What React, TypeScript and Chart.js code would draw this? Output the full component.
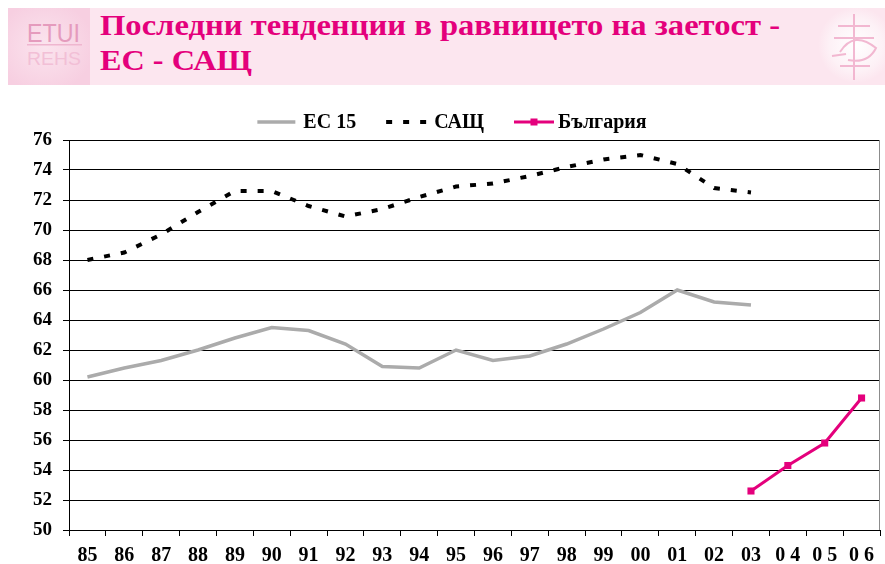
import React, { useEffect, useRef } from 'react';
import { Chart, registerables } from 'chart.js';

Chart.register(...registerables);

const categories = ['85', '86', '87', '88', '89', '90', '91', '92', '93', '94', '95', '96', '97', '98', '99', '00', '01', '02', '03', '0 4', '0 5', '0 6'];
const eu15 = [60.2, 60.8, 61.3, 62.0, 62.8, 63.5, 63.3, 62.4, 60.9, 60.8, 62.0, 61.3, 61.6, 62.4, 63.4, 64.5, 66.0, 65.2, 65.0, null, null, null];
const usa = [68.0, 68.5, 69.7, 71.2, 72.6, 72.6, 71.6, 70.9, 71.4, 72.2, 72.9, 73.1, 73.6, 74.2, 74.7, 75.0, 74.4, 72.8, 72.5, null, null, null];
const bulgaria = [null, null, null, null, null, null, null, null, null, null, null, null, null, null, null, null, null, null, 52.6, 54.3, 55.8, 58.8];
const seriesNames = ['ЕС 15', 'САЩ', 'България'];
const yMin = 50;
const yMax = 76;
const yStep = 2;
const titleLines = ['Последни тенденции в равнището на заетост -', 'ЕС - САЩ'];

const EU_COLOR = '#ababab';
const USA_COLOR = '#000000';
const BG_COLOR = '#e4007c';
const SERIF = '"Liberation Serif", "Times New Roman", serif';

const legendPlugin = {
  id: 'customLegend',
  afterDraw(chart: any) {
    const ctx = chart.ctx as CanvasRenderingContext2D;
    const area = chart.chartArea;
    ctx.save();
    // right border
    ctx.strokeStyle = '#8c8c8c';
    ctx.lineWidth = 1;
    ctx.beginPath();
    ctx.moveTo(Math.round(area.right) - 0.5, area.top);
    ctx.lineTo(Math.round(area.right) - 0.5, area.bottom);
    ctx.stroke();

    ctx.font = 'bold 20px ' + SERIF;
    ctx.textBaseline = 'middle';
    ctx.fillStyle = '#000';
    const lineLens = [38, 46, 40];
    const textGaps = [8, 2, 4];
    const itemGap = 30;
    const widths = seriesNames.map((n) => ctx.measureText(n).width);
    let total = 0;
    for (let i = 0; i < seriesNames.length; i++) total += lineLens[i] + textGaps[i] + widths[i];
    total += itemGap * (seriesNames.length - 1);
    let x = 452 - total / 2;
    const y = 27;
    for (let i = 0; i < seriesNames.length; i++) {
      const len = lineLens[i];
      ctx.beginPath();
      if (i === 0) {
        ctx.strokeStyle = EU_COLOR;
        ctx.lineWidth = 3.5;
        ctx.setLineDash([]);
      } else if (i === 1) {
        ctx.strokeStyle = USA_COLOR;
        ctx.lineWidth = 4;
        ctx.setLineDash([6, 11]);
      } else {
        ctx.strokeStyle = BG_COLOR;
        ctx.lineWidth = 3;
        ctx.setLineDash([]);
      }
      ctx.moveTo(x, y);
      ctx.lineTo(x + len, y);
      ctx.stroke();
      ctx.setLineDash([]);
      if (i === 2) {
        ctx.fillStyle = BG_COLOR;
        ctx.fillRect(x + len / 2 - 3.5, y - 3.5, 7, 7);
      }
      ctx.fillStyle = '#000';
      ctx.fillText(seriesNames[i], x + len + textGaps[i], y + 1);
      x += len + textGaps[i] + widths[i] + itemGap;
    }
    ctx.restore();
  },
};

function Header() {
  return (
    <svg
      width={877}
      height={77}
      style={{ position: 'absolute', left: 8, top: 8, display: 'block' }}
    >
      <defs>
        <radialGradient id="lg" cx="45%" cy="50%" r="60%">
          <stop offset="0%" stopColor="#fbe4ee" />
          <stop offset="100%" stopColor="#f7cfe1" />
        </radialGradient>
        <radialGradient id="rg" cx="50%" cy="50%" r="50%">
          <stop offset="0%" stopColor="#ffffff" />
          <stop offset="70%" stopColor="#fdf1f6" />
          <stop offset="100%" stopColor="#fce6ef" />
        </radialGradient>
      </defs>
      <rect x={0} y={0} width={877} height={77} fill="#fce6ef" />
      <rect x={0} y={0} width={82} height={77} fill="url(#lg)" />
      <text x={19} y={34} fontFamily='"Liberation Sans", Arial, sans-serif' fontSize={25} fill="#e59bbd" textLength={53} lengthAdjust="spacingAndGlyphs">ETUI</text>
      <rect x={19} y={36} width={55} height={1.5} fill="#efb6cf" />
      <text x={19} y={57} fontFamily='"Liberation Sans", Arial, sans-serif' fontSize={19} fill="#f2bfd6" textLength={54} lengthAdjust="spacingAndGlyphs">REHS</text>
      <circle cx={848} cy={37} r={38} fill="url(#rg)" />
      <g stroke="#f0a9c8" strokeWidth={2} fill="none" opacity={0.8}>
        <line x1={846} y1={6} x2={846} y2={72} />
        <line x1={830} y1={18} x2={862} y2={18} />
        <line x1={826} y1={30} x2={866} y2={30} />
        <line x1={832} y1={58} x2={862} y2={58} />
        <path d="M832 44 Q846 22 868 40 Q860 56 840 52" />
        <path d="M824 48 L838 46" />
      </g>
      <g transform="translate(92,26.5) scale(1,0.9)">
        <text x={0} y={0} fontFamily={SERIF} fontWeight="bold" fontSize={32} fill={BG_COLOR} textLength={680} lengthAdjust="spacingAndGlyphs">{titleLines[0]}</text>
      </g>
      <g transform="translate(92,62) scale(1,0.9)">
        <text x={0} y={0} fontFamily={SERIF} fontWeight="bold" fontSize={32} fill={BG_COLOR} textLength={152} lengthAdjust="spacingAndGlyphs">{titleLines[1]}</text>
      </g>
    </svg>
  );
}

export default function App() {
  const canvasRef = useRef<HTMLCanvasElement | null>(null);

  useEffect(() => {
    if (!canvasRef.current) return;
    const chart = new Chart(canvasRef.current, {
      type: 'line',
      data: {
        labels: categories,
        datasets: [
          {
            label: seriesNames[0],
            data: eu15,
            borderColor: EU_COLOR,
            borderWidth: 3.5,
            pointRadius: 0,
            tension: 0,
            fill: false,
          },
          {
            label: seriesNames[1],
            data: usa,
            borderColor: USA_COLOR,
            borderWidth: 4,
            borderDash: [6, 11],
            pointRadius: 0,
            tension: 0,
            fill: false,
          },
          {
            label: seriesNames[2],
            data: bulgaria,
            borderColor: BG_COLOR,
            backgroundColor: BG_COLOR,
            borderWidth: 3,
            pointStyle: 'rect',
            pointRadius: 5,
            pointBorderWidth: 0,
            pointBackgroundColor: BG_COLOR,
            tension: 0,
            fill: false,
          },
        ],
      },
      options: {
        responsive: false,
        animation: false,
        devicePixelRatio: 1,
        layout: { padding: { top: 45, right: 1, left: 0, bottom: 0 } },
        plugins: {
          legend: { display: false },
          tooltip: { enabled: false },
          title: { display: false },
        },
        scales: {
          x: {
            type: 'category',
            offset: true,
            grid: {
              offset: true,
              drawOnChartArea: false,
              drawTicks: true,
              tickLength: 6,
              color: '#000',
              lineWidth: 1,
            },
            border: { color: '#000', width: 1 },
            ticks: {
              color: '#000',
              font: { family: SERIF, size: 20, weight: 'bold' },
              padding: 8,
              maxRotation: 0,
              autoSkip: false,
            },
            afterFit: (s: any) => {
              s.height = 34;
            },
          },
          y: {
            min: yMin,
            max: yMax,
            grid: {
              color: '#000',
              lineWidth: 1,
              drawTicks: true,
              tickLength: 6,
            },
            border: { color: '#000', width: 1 },
            ticks: {
              stepSize: yStep,
              color: '#000',
              font: { family: SERIF, size: 19, weight: 'bold' },
              padding: 11,
            },
            afterFit: (s: any) => {
              s.width = 69;
            },
          },
        },
      } as any,
      plugins: [legendPlugin],
    });
    return () => chart.destroy();
  }, []);

  return (
    <div
      style={{
        position: 'fixed',
        left: 0,
        top: 0,
        width: 885,
        height: 564,
        overflow: 'hidden',
        background: '#fff',
      }}
    >
      <Header />
      <canvas
        ref={canvasRef}
        width={885}
        height={469}
        style={{ position: 'absolute', left: 0, top: 95, width: 885, height: 469, display: 'block' }}
      />
    </div>
  );
}
